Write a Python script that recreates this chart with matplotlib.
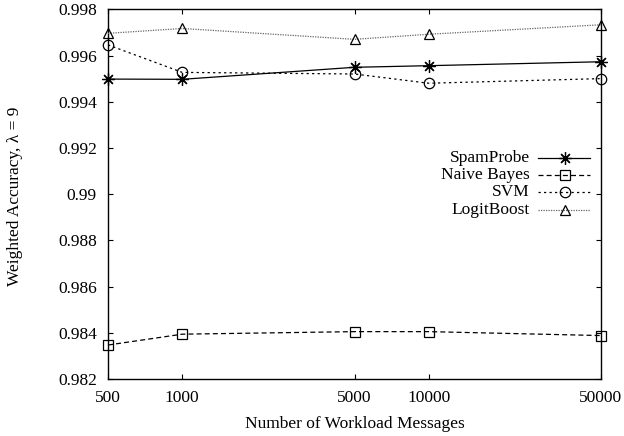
import numpy as np
import matplotlib
matplotlib.use("Agg")
import matplotlib.pyplot as plt
from matplotlib.lines import Line2D

# ---- data ----
workload = [500, 1000, 5000, 10000, 50000]
xtick_labels = ["500", "1000", "5000", "10000", "50000"]
spamprobe = [0.99498, 0.99497, 0.99549, 0.99556, 0.99573]
naive_bayes = [0.98347, 0.98394, 0.98405, 0.98405, 0.98388]
svm = [0.99646, 0.99527, 0.99520, 0.99480, 0.99500]
logitboost = [0.99696, 0.99717, 0.99670, 0.99692, 0.99733]
yticks = [0.982, 0.984, 0.986, 0.988, 0.99, 0.992, 0.994, 0.996, 0.998]
ytick_labels = ["0.982", "0.984", "0.986", "0.988", "0.99", "0.992", "0.994", "0.996", "0.998"]
series_names = ["SpamProbe", "Naive Bayes", "SVM", "LogitBoost"]

plt.rcParams['font.family'] = ['Liberation Serif', 'DejaVu Serif']
FS = 12.5

fig = plt.figure(figsize=(6.24, 4.36), dpi=100)
ax = fig.add_axes([108/624, 57/436, (601-108)/624, (379-9.3)/436])

styles = [
    dict(color='black', lw=0.9, ls='-', marker=(8, 2, 0), ms=9, mew=0.9),
    dict(color='black', lw=0.9, ls=(0, (4, 2.5)), marker='s', ms=7.5, mew=0.9),
    dict(color='black', lw=0.9, ls=(0, (1.8, 2.6)), marker='o', ms=7.5, mew=0.9),
    dict(color='#666666', lw=0.9, ls=(0, (1, 1)), marker='^', ms=7.5, mew=0.9),
]
series = [spamprobe, naive_bayes, svm, logitboost]

for vals, st in zip(series, styles):
    ax.plot(workload, vals, color=st['color'], lw=st['lw'], ls=st['ls'],
            marker=st['marker'], ms=st['ms'], mew=st['mew'], mfc='none',
            mec='black', clip_on=False, zorder=3)

ax.set_xscale('log')
ax.set_xlim(workload[0], workload[-1])
ax.set_ylim(yticks[0], yticks[-1])
ax.set_xticks(workload)
ax.set_xticklabels(xtick_labels, fontsize=FS)
ax.xaxis.set_minor_locator(matplotlib.ticker.NullLocator())
ax.set_yticks(yticks)
ax.set_yticklabels(ytick_labels, fontsize=FS)

ax.tick_params(axis='both', which='major', direction='in', length=3.6, width=0.8,
               top=True, right=True, labelsize=FS)
ax.tick_params(axis='y', pad=8)
ax.tick_params(axis='x', pad=8)
for sp in ax.spines.values():
    sp.set_linewidth(1.0)

ax.set_xlabel("Number of Workload Messages", fontsize=FS)
ax.xaxis.label.set_va('center')
ax.xaxis.set_label_coords(0.5, -0.123)
fig.text(15/624, 1 - 196/436, "Weighted Accuracy, \u03bb = 9", rotation=90,
         ha='center', va='center', fontsize=FS)

# ---- legend (manual, gnuplot style) ----
rows = [0.598, 0.551, 0.505, 0.457]
for name, st, yy in zip(series_names, styles, rows):
    ax.text(0.856, yy, name, transform=ax.transAxes, ha='right', va='center',
            fontsize=FS)
    ax.add_line(Line2D([0.872, 0.978], [yy, yy], transform=ax.transAxes,
                       color=st['color'], lw=st['lw'], ls=st['ls'], clip_on=False))
    ax.add_line(Line2D([0.927], [yy], transform=ax.transAxes, ls='none',
                       marker=st['marker'], ms=st['ms'], mew=st['mew'],
                       mfc='none', mec='black', clip_on=False))

fig.savefig("out.png", dpi=100)
